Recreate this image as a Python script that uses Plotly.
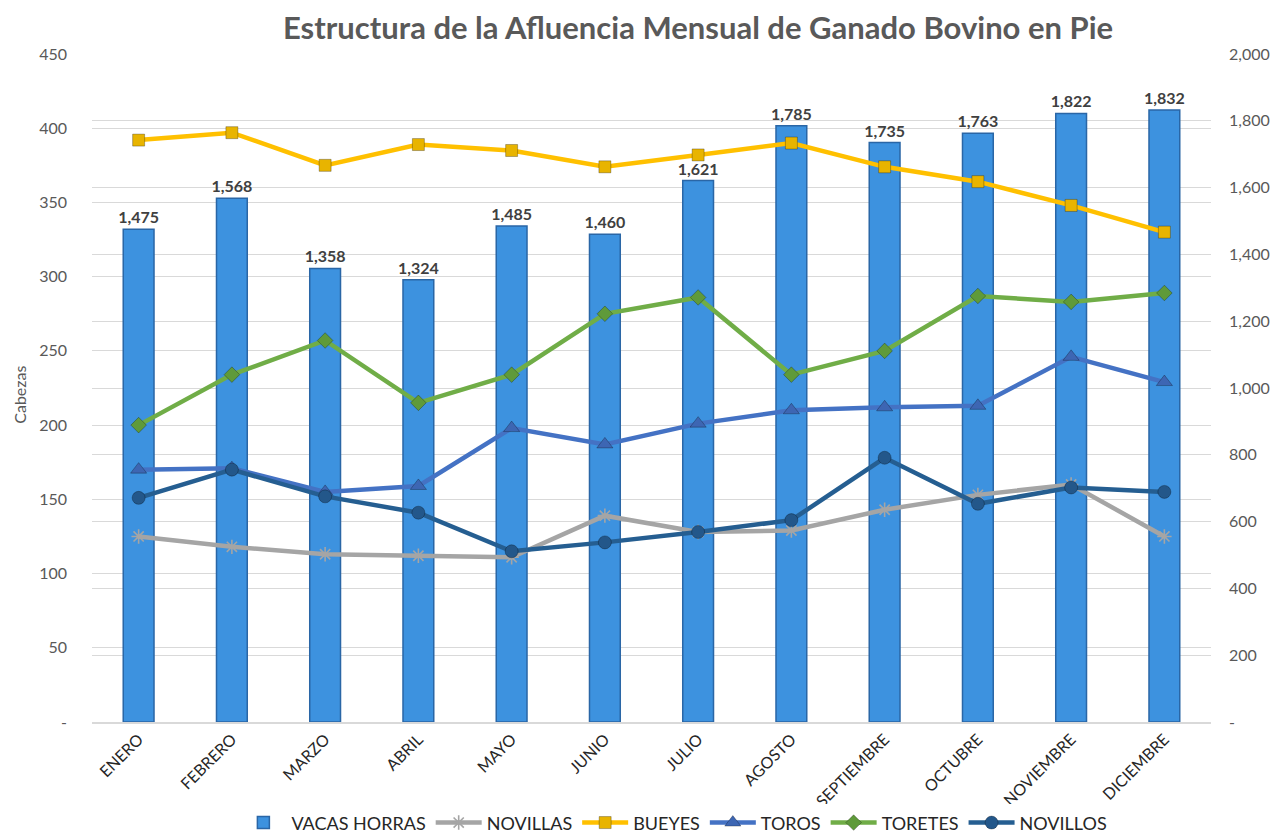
import plotly.graph_objects as go

months = ["ENERO", "FEBRERO", "MARZO", "ABRIL", "MAYO", "JUNIO", "JULIO",
          "AGOSTO", "SEPTIEMBRE", "OCTUBRE", "NOVIEMBRE", "DICIEMBRE"]

vacas_horras = [1475, 1568, 1358, 1324, 1485, 1460, 1621, 1785, 1735, 1763, 1822, 1832]
novillas = [125, 118, 113, 112, 111, 139, 128, 129, 143, 153, 160, 125]
bueyes = [392, 397, 375, 389, 385, 374, 382, 390, 374, 364, 348, 330]
toros = [170, 171, 155, 159, 198, 187, 201, 210, 212, 213, 246, 229]
toretes = [200, 234, 257, 215, 234, 275, 286, 234, 250, 287, 283, 289]
novillos = [151, 170, 152, 141, 115, 121, 128, 136, 178, 147, 158, 155]

left_tickvals = [0, 50, 100, 150, 200, 250, 300, 350, 400, 450]
left_ticktext = ["-", "50", "100", "150", "200", "250", "300", "350", "400", "450"]
right_tickvals = [0, 200, 400, 600, 800, 1000, 1200, 1400, 1600, 1800, 2000]
right_ticktext = ["-", "200", "400", "600", "800", "1,000", "1,200", "1,400",
                  "1,600", "1,800", "2,000"]

FONT = "Lato"
fig = go.Figure()

fig.add_trace(go.Bar(
    x=months, y=vacas_horras, name="VACAS HORRAS", yaxis="y",
    width=0.33,
    marker=dict(color="#3d92df", line=dict(color="#2a66a6", width=1.5)),
    texttemplate="<b>%{y:,}</b>", textposition="outside", constraintext="none",
    textfont=dict(family=FONT, size=16, color="#404040"),
    cliponaxis=False,
))

line_specs = [
    ("NOVILLAS", novillas, "#a5a5a5", "asterisk-open", "#a5a5a5", 12),
    ("BUEYES", bueyes, "#ffc000", "square", "#e8b400", 12),
    ("TOROS", toros, "#4472c4", "triangle-up", "#3d66b3", 14),
    ("TORETES", toretes, "#70ad47", "diamond", "#5f9a3a", 12),
    ("NOVILLOS", novillos, "#255e91", "circle", "#23578a", 13),
]
for name, vals, col, sym, mcol, msize in line_specs:
    fig.add_trace(go.Scatter(
        x=months, y=vals, name=name, yaxis="y2", mode="lines+markers",
        line=dict(color=col, width=4.5),
        marker=dict(symbol=sym, size=msize, color=mcol,
                    line=dict(color=("#b0b0b0" if sym == "asterisk-open" else "rgba(0,0,0,0.35)"),
                              width=(1.6 if sym == "asterisk-open" else 0.8))),
    ))

fig.add_annotation(
    text="Cabezas", xref="paper", yref="paper", x=-0.0643, y=0.49,
    xanchor="center", yanchor="middle", textangle=-90, showarrow=False,
    font=dict(family=FONT, size=16, color="#595959"),
)

fig.update_layout(
    width=1286, height=834,
    paper_bgcolor="white", plot_bgcolor="white",
    margin=dict(l=84, r=83, t=46, b=120, autoexpand=False),
    font=dict(family=FONT, color="#595959"),
    title=dict(text="<b>Estructura de la Afluencia Mensual de Ganado Bovino en Pie</b>",
               x=0.5366, xanchor="center", y=0.976, yanchor="middle",
               font=dict(family=FONT, size=31, color="#595959")),
    bargap=0.67,
    xaxis=dict(
        tickangle=-45, tickfont=dict(family=FONT, size=16, color="#262626"),
        showgrid=False, showline=True, linecolor="#d9d9d9", linewidth=1.5,
        ticks="", range=[-0.5, 11.5], automargin=False,
    ),
    yaxis=dict(
        side="right", range=[0, 2000], tickvals=right_tickvals, ticktext=right_ticktext,
        showgrid=True, gridcolor="#d9d9d9", gridwidth=1,
        tickfont=dict(family=FONT, size=16, color="#595959"),
        zeroline=False, showline=False, automargin=False, ticklabelstandoff=17,
    ),
    yaxis2=dict(
        side="left", overlaying="y", range=[0, 450],
        tickvals=left_tickvals, ticktext=left_ticktext,
        showgrid=True, gridcolor="#d9d9d9", gridwidth=1,
        tickfont=dict(family=FONT, size=16, color="#595959"),
        zeroline=False, showline=False, automargin=False, ticklabelstandoff=24,
    ),
    legend=dict(orientation="h", x=0.52, xanchor="center", y=-0.151, yanchor="middle",
                font=dict(family=FONT, size=18, color="#262626"),
                itemwidth=46, tracegroupgap=0),
    showlegend=True,
)

fig.write_html("out.html")
